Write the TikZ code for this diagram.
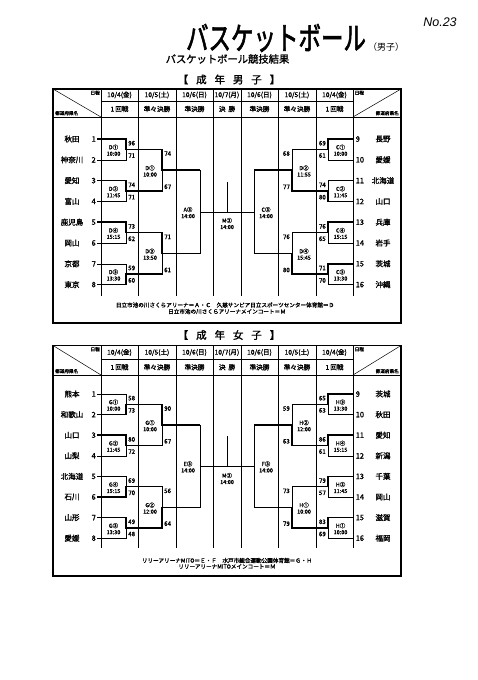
\documentclass[tikz,border=0pt]{standalone}
\usepackage{fontspec}
\setmainfont{Noto Sans CJK JP}
\newfontfamily\jpb{Noto Sans CJK JP}[FakeBold=1.3]
\newfontfamily\jpt{Noto Sans CJK JP}[FakeBold=2.2]
\newfontfamily\lat{Liberation Sans}
\tikzset{
 sfr/.style={line width=1.1pt},
 sgr/.style={line width=0.5pt},
 sbx/.style={line width=0.6pt},
 swin/.style={line width=1.5pt,line join=miter},
 steam/.style={font=\jpb\fontsize{7.5}{8}\selectfont,inner sep=0pt},
 snum/.style={font=\jpb\fontsize{7.5}{8}\selectfont,inner sep=0pt},
 slbl/.style={font=\jpb\fontsize{5.5}{6.4}\selectfont,align=center,inner sep=0pt},
 ssc/.style={font=\jpb\fontsize{6.2}{7}\selectfont,inner sep=0pt},
 shd/.style={font=\jpb\fontsize{6.6}{7}\selectfont,inner sep=0pt},
 scor/.style={font=\jpb\fontsize{4.6}{5}\selectfont,inner sep=0pt},
 snote/.style={font=\jpb\fontsize{5.6}{6.6}\selectfont,align=center,inner sep=0pt},
 shead/.style={font=\jpb\fontsize{10.5}{11}\selectfont,inner sep=0pt},
}
% #1 prefix, #2 top, #3 divider, #4 header bottom, #5 column bottom, #6 frame bottom
\newcommand\tgrid[6]{%
 \draw[sgr] (101,#3) -- (353,#3);
 \draw[sgr] (53,#4) -- (401,#4);
 \foreach \cx in {101,138,176,213,241,278,316,353}{\draw[sgr] (\cx,#2) -- (\cx,#5);}
 \draw[sgr] (53,#2) -- (101,#4);
 \draw[sgr] (353,#4) -- (401,#2);
 \draw[sfr] (53,#2) rectangle (401,#6);
 \node[scor,anchor=north east] (#1c1) at (100,{#2+1.5}) {日程};
 \node[scor,anchor=south west] (#1c2) at (55,{#4-1.5}) {都道府県名};
 \node[scor,anchor=north west] (#1c3) at (354.5,{#2+1.5}) {日程};
 \node[scor,anchor=south east] (#1c4) at (399,{#4-1.5}) {都道府県名};
 \node[shd] (#1h1) at (119.5,{(#2+#3)/2}) {10/4(金)};
 \node[shd] (#1h2) at (157,{(#2+#3)/2}) {10/5(土)};
 \node[shd] (#1h3) at (194.5,{(#2+#3)/2}) {10/6(日)};
 \node[shd] (#1h4) at (227,{(#2+#3)/2}) {10/7(月)};
 \node[shd] (#1h5) at (259.5,{(#2+#3)/2}) {10/6(日)};
 \node[shd] (#1h6) at (297,{(#2+#3)/2}) {10/5(土)};
 \node[shd] (#1h7) at (334.5,{(#2+#3)/2}) {10/4(金)};
 \node[shd] (#1r1) at (119.5,{(#3+#4)/2}) {1\,回戦};
 \node[shd] (#1r2) at (157,{(#3+#4)/2}) {準々決勝};
 \node[shd] (#1r3) at (194.5,{(#3+#4)/2}) {準決勝};
 \node[shd] (#1r4) at (227,{(#3+#4)/2}) {決\ \ 勝};
 \node[shd] (#1r5) at (259.5,{(#3+#4)/2}) {準決勝};
 \node[shd] (#1r6) at (297,{(#3+#4)/2}) {準々決勝};
 \node[shd] (#1r7) at (334.5,{(#3+#4)/2}) {1\,回戦};
}
\newcommand\matches[1]{%
 \foreach \nm/\xa/\xb/\xs/\px/\ya/\yb/\code/\tm/\sa/\sb/\w/\an/\dx in {#1}{%
  \pgfmathsetmacro\ym{(\ya+\yb)/2}
  \pgfmathsetmacro\yw{\w==1 ? \ya : \yb}
  \draw[sbx] (\xa,\ya) rectangle (\xb,\yb);
  \draw[sbx] (\xb,\ym) -- (\px,\ym);
  \node[slbl] (\nm) at ({(\xa+\xb)/2},{\ym+0.8}) {\code\\\tm};
  \node[ssc,anchor=\an] (\nm-a) at ({\xb+(\dx)},{\ya+4.2}) {\sa};
  \node[ssc,anchor=\an] (\nm-b) at ({\xb+(\dx)},{\yb-4.2}) {\sb};
  \ifnum\w>0 \draw[swin] (\xs,\yw) -- (\xb,\yw) -- (\xb,\ym) -- (\px,\ym);\fi
 }%
}
\begin{document}
\begin{tikzpicture}[x=1pt,y=-1pt]
\fill[white] (0,0) rectangle (478,680);
\useasboundingbox (0,0) rectangle (478,680);

% ---------- titles ----------
\node[inner sep=0pt,font=\jpt\fontsize{22.5}{23}\selectfont] (title) at (276,38) {\scalebox{1}[1.4]{バスケットボール}};
\node[inner sep=0pt,font=\fontsize{9}{9}\selectfont] (sex) at (386,47) {（男子）};
\node[inner sep=0pt,font=\lat\itshape\fontsize{12.5}{13}\selectfont] (no) at (440,22) {No.23};
\node[inner sep=0pt,font=\jpb\fontsize{10.3}{11}\selectfont] (sub) at (227.5,59) {バスケットボール競技結果};

% ================= MEN =================
\node[shead] (mhead) at (229,79.5) {【\hspace{0.75em}成\hspace{0.75em}年\hspace{0.75em}男\hspace{0.75em}子\hspace{0.75em}】};
\tgrid{m}{89}{101}{117}{296}{323}
\foreach \i/\t in {1/秋田,2/神奈川,3/愛知,4/富山,5/鹿児島,6/岡山,7/京都,8/東京}{%
 \pgfmathsetmacro\yy{139+(\i-1)*20.8}
 \node[steam] (mLt\i) at (72,\yy) {\t};
 \node[snum,anchor=east] (mLn\i) at (96,\yy) {\i};
 \draw[sgr] (97,\yy) -- (101,\yy);
}
\foreach \i/\t in {9/長野,10/愛媛,11/北海道,12/山口,13/兵庫,14/岩手,15/茨城,16/沖縄}{%
 \pgfmathsetmacro\yy{139+(\i-9)*20.8}
 \node[steam] (mRt\i) at (383,\yy) {\t};
 \node[snum,anchor=west] (mRn\i) at (355.5,\yy) {\i};
}
\matches{mD1/101/126/97/162/139/159.8/D①/10:00/96/71/1/west/2,
mD2/101/126/97/162/180.6/201.4/D②/11:45/74/71/1/west/2,
mD4/101/126/97/162/222.2/243/D④/15:15/73/62/1/west/2,
mD3/101/126/97/162/263.8/284.6/D③/13:30/59/60/2/west/2,
mQ1/138/162/138/200/149.4/191/D①/10:00/74/67/1/west/2,
mQ2/138/162/138/200/232.6/274.2/D③/13:50/71/61/1/west/2,
mC1/353/328/353/292/139/159.8/C①/10:00/69/61/1/east/-2,
mC2/353/328/353/292/180.6/201.4/C②/11:45/74/80/2/east/-2,
mC4/353/328/353/292/222.2/243/C④/15:15/76/65/1/east/-2,
mC3/353/328/353/292/263.8/284.6/C③/13:30/71/70/1/east/-2,
mQ3/316/292/316/254/149.4/191/D②/11:55/68/77/2/east/-2,
mQ4/316/292/316/254/232.6/274.2/D④/15:45/76/80/2/east/-2}
\draw[sbx] (176,170.2) rectangle (200,253.4);
\node[slbl] (mA3) at (188,212.6) {A③\\14:00};
\draw[sbx] (278,170.2) rectangle (254,253.4);
\node[slbl] (mC3s) at (266,212.6) {C③\\14:00};
\draw[sbx] (200,211.8) -- (254,211.8);
\draw[sbx] (227,181.8) -- (227,211.8);
\node[slbl] (mM3) at (227,223.5) {M③\\14:00};
\node[snote] (mn1) at (225,305) {日立市池の川さくらアリーナ＝Ａ・Ｃ　久慈サンピア日立スポーツセンター体育館＝Ｄ};
\node[snote] (mn2) at (227,311.5) {日立市池の川さくらアリーナメインコート＝Ｍ};

% ================= WOMEN =================
\node[shead] (whead) at (229,335) {【\hspace{0.75em}成\hspace{0.75em}年\hspace{0.75em}女\hspace{0.75em}子\hspace{0.75em}】};
\tgrid{w}{345.5}{359.5}{375}{548}{576}
\foreach \i/\t in {1/熊本,2/和歌山,3/山口,4/山梨,5/北海道,6/石川,7/山形,8/愛媛}{%
 \pgfmathsetmacro\yy{394+(\i-1)*20.6}
 \node[steam] (wLt\i) at (72,\yy) {\t};
 \node[snum,anchor=east] (wLn\i) at (96,\yy) {\i};
 \draw[sgr] (97,\yy) -- (101,\yy);
}
\foreach \i/\t in {9/茨城,10/秋田,11/愛知,12/新潟,13/千葉,14/岡山,15/滋賀,16/福岡}{%
 \pgfmathsetmacro\yy{394+(\i-9)*20.6}
 \node[steam] (wRt\i) at (383,\yy) {\t};
 \node[snum,anchor=west] (wRn\i) at (355.5,\yy) {\i};
}
\matches{wG1/101/126/97/162/394/414.6/G①/10:00/58/73/2/west/2,
wG2/101/126/97/162/435.2/455.8/G②/11:45/80/72/1/west/2,
wG4/101/126/97/162/476.4/497/G④/15:15/69/70/2/west/2,
wG3/101/126/97/162/517.6/538.2/G③/13:30/49/48/1/west/2,
wQ1/138/162/138/200/404.3/445.5/G①/10:00/90/67/1/west/2,
wQ2/138/162/138/200/486.7/527.9/G②/12:00/56/64/2/west/2,
wH3/353/328/353/292/394/414.6/H③/13:30/65/63/1/east/-2,
wH4/353/328/353/292/435.2/455.8/H④/15:15/86/61/1/east/-2,
wH2/353/328/353/292/476.4/497/H②/11:45/79/57/1/east/-2,
wH1/353/328/353/292/517.6/538.2/H①/10:00/83/69/1/east/-2,
wQ3/316/292/316/254/404.3/445.5/H②/12:00/59/63/2/east/-2,
wQ4/316/292/316/254/486.7/527.9/H①/10:00/73/79/2/east/-2}
\draw[sbx] (176,424.9) rectangle (200,507.3);
\node[slbl] (wE3) at (188,466.9) {E③\\14:00};
\draw[sbx] (278,424.9) rectangle (254,507.3);
\node[slbl] (wF3) at (266,466.9) {F③\\14:00};
\draw[sbx] (200,466.1) -- (254,466.1);
\draw[sbx] (227,436.1) -- (227,466.1);
\node[slbl] (wM3) at (227,478.5) {M③\\14:00};
\node[snote] (wn1) at (227,560.5) {リリーアリーナMITO＝Ｅ・Ｆ　水戸市総合運動公園体育館＝Ｇ・Ｈ};
\node[snote] (wn2) at (227,566.5) {リリーアリーナMITOメインコート＝Ｍ};
\end{tikzpicture}
\end{document}
